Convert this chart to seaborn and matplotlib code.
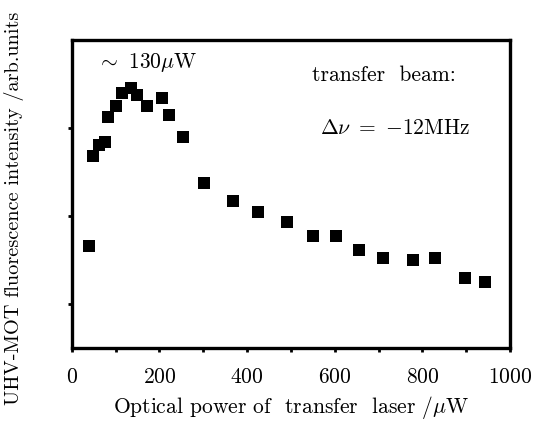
import matplotlib
matplotlib.use("Agg")
import matplotlib.pyplot as plt
import seaborn as sns
import pandas as pd
from matplotlib.ticker import MultipleLocator

# optical power of transfer laser (uW) and UHV-MOT fluorescence (arb. units)
power = [39, 49, 62, 75, 83, 102, 114, 135, 148, 172, 205, 222, 254,
         301, 368, 424, 490, 551, 602, 655, 710, 779, 828, 897, 943]
fluor = [1.66, 2.68, 2.81, 2.84, 3.13, 3.25, 3.40, 3.46, 3.38, 3.25, 3.34,
         3.15, 2.90, 2.38, 2.17, 2.05, 1.93, 1.77, 1.77, 1.62, 1.52, 1.50,
         1.52, 1.30, 1.25]
x_ticks = [0, 200, 400, 600, 800, 1000]
y_ticks = [1, 2, 3]


def main():
    sns.set_style("ticks")
    plt.rcParams["font.family"] = "serif"
    plt.rcParams["font.serif"] = ["cmr10", "DejaVu Serif"]
    plt.rcParams["mathtext.fontset"] = "cm"
    plt.rcParams["axes.formatter.use_mathtext"] = True
    plt.rcParams["text.color"] = "black"
    plt.rcParams["axes.labelcolor"] = "black"
    plt.rcParams["axes.edgecolor"] = "black"
    plt.rcParams["xtick.color"] = "black"
    plt.rcParams["ytick.color"] = "black"

    df = pd.DataFrame({"power": power, "fluor": fluor})
    fs = 15.5

    fig = plt.figure(figsize=(5.52, 4.22), dpi=100)
    ax = fig.add_axes([0.130, 0.175, 0.794, 0.730])
    sns.scatterplot(data=df, x="power", y="fluor", marker="s", s=80,
                    color="black", linewidth=0, ax=ax)

    ax.set_xlim(0, 1000)
    ax.set_ylim(0.5, 4.0)
    ax.set_xticks(x_ticks)
    ax.xaxis.set_minor_locator(MultipleLocator(100))
    ax.set_yticks(y_ticks)
    ax.set_yticklabels([])
    for s in ax.spines.values():
        s.set_linewidth(2.4)
        s.set_color("black")
        s.set_visible(True)
    ax.tick_params(which="both", direction="out", length=3, width=2,
                   labelsize=fs, pad=11)

    ax.set_xlabel(r"Optical power of  transfer  laser /$\mu$W", fontsize=fs,
                  labelpad=5)
    ax.set_ylabel("UHV-MOT fluorescence intensity /arb.units", fontsize=14.6)
    ax.yaxis.set_label_coords(-0.108, 0.455)

    ax.text(57, 3.74, r"$\sim$ 130$\mu$W", fontsize=fs, va="center")
    ax.text(548, 3.60, "transfer  beam:", fontsize=fs, va="center")
    ax.text(566, 3.00, r"$\Delta\nu\ {=}\ {-}12\mathrm{MHz}$", fontsize=fs,
            va="center")

    fig.savefig("out.png", dpi=100)


if __name__ == "__main__":
    main()
